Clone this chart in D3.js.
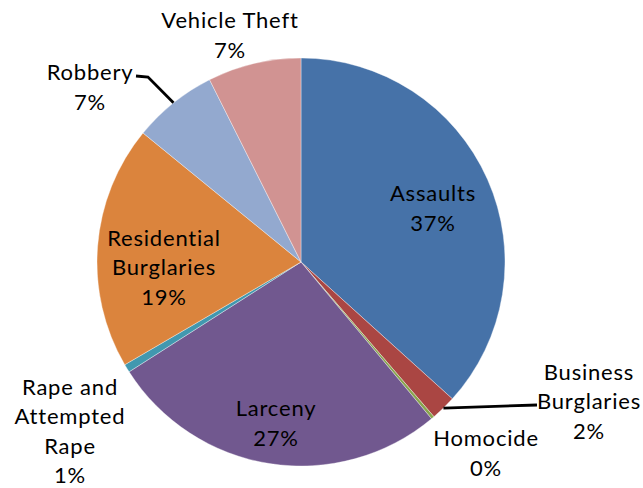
<!DOCTYPE html>
<html>
<head>
<meta charset="utf-8">
<script src="https://cdn.jsdelivr.net/npm/d3@7"></script>
<style>
  html, body { margin: 0; padding: 0; background: #fff; }
  svg text { font-family: Lato, "Liberation Sans", Arial, sans-serif; font-size: 22px; fill: #000; }
</style>
</head>
<body>
<svg id="chart" width="643" height="488"></svg>
<script>
// Share of reported crimes by offense type (percent)
const categories = [
  "Assaults", "Business Burglaries", "Homocide", "Larceny",
  "Rape and Attempted Rape", "Residential Burglaries", "Robbery", "Vehicle Theft"
];
const shares = [36.7, 2.0, 0.25, 27.0, 0.65, 19.3, 6.7, 7.4];
const percentLabels = ["37%", "2%", "0%", "27%", "1%", "19%", "7%", "7%"];

// Slice colours
const colors = ["#4672A8", "#AA4643", "#89A54E", "#71588F", "#4198AF", "#DB843D", "#93A9CF", "#D19392"];

// Label text lines and where each label block is centred
const labelLines = [
  ["Assaults"], ["Business", "Burglaries"], ["Homocide"], ["Larceny"],
  ["Rape and", "Attempted", "Rape"], ["Residential", "Burglaries"], ["Robbery"], ["Vehicle Theft"]
];
const labelCenters = [
  [433, 207], [589, 400], [486, 452], [276, 422],
  [70, 430], [164, 266], [90, 86], [230, 34]
];
const leaderSlices = { "Business Burglaries": [[537, 405]], "Robbery": [[148, 77], [136, 76]] };

const cx = 301, cy = 262, radius = 204, lineGap = 29.5;

const svg = d3.select("#chart");
const g = svg.append("g").attr("transform", `translate(${cx},${cy})`);

const data = categories.map((c, i) => ({ name: c, value: shares[i], i }));
const pie = d3.pie().sort(null).value(d => d.value).startAngle(0).endAngle(2 * Math.PI);
const arc = d3.arc().innerRadius(0).outerRadius(radius);
const color = d3.scaleOrdinal().domain(categories).range(colors);

const arcs = pie(data);

g.selectAll("path.slice")
  .data(arcs)
  .join("path")
  .attr("class", "slice")
  .attr("d", arc)
  .attr("fill", d => color(d.data.name))
  .attr("stroke", "#ffffff")
  .attr("stroke-opacity", 0.6)
  .attr("stroke-width", 0.6);

// Leader lines from the slice's outer edge to its label
arcs.forEach(d => {
  const pts = leaderSlices[d.data.name];
  if (!pts) return;
  const a = (d.startAngle + d.endAngle) / 2;
  const start = [cx + radius * Math.sin(a), cy - radius * Math.cos(a)];
  svg.append("path")
    .attr("d", d3.line()([start, ...pts]))
    .attr("fill", "none")
    .attr("stroke", "#000")
    .attr("stroke-width", 2.8);
});

// Data labels: category name lines followed by the percentage
arcs.forEach(d => {
  const i = d.data.i;
  const lines = [...labelLines[i], percentLabels[i]];
  const [lx, ly] = labelCenters[i];
  const top = ly - (lines.length - 1) * lineGap / 2;
  const t = svg.append("text")
    .attr("text-anchor", "middle")
    .attr("dominant-baseline", "central")
    .attr("letter-spacing", "0.8px");
  lines.forEach((s, k) => {
    t.append("tspan").attr("x", lx).attr("y", top + k * lineGap).text(s);
  });
});
</script>
</body>
</html>
